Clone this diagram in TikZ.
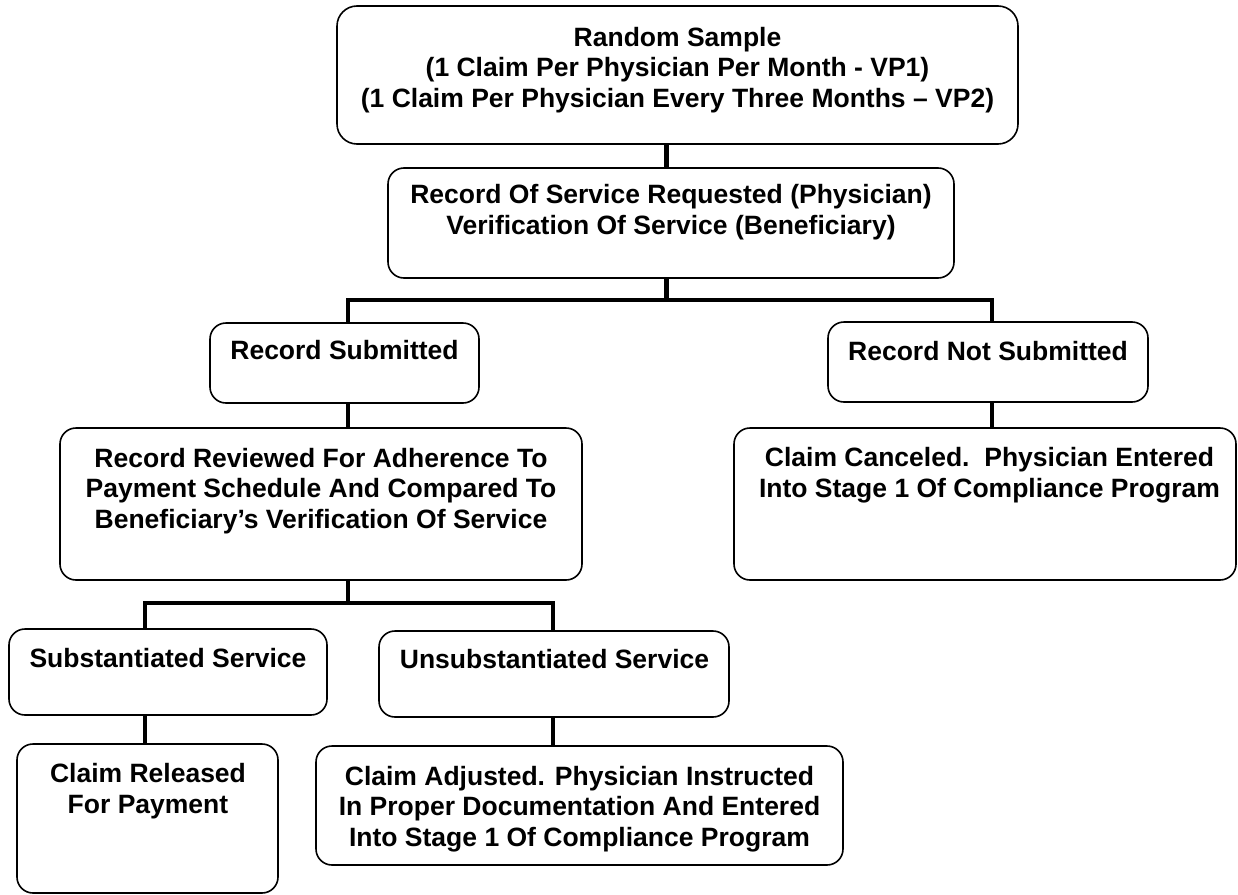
\documentclass[tikz,border=0pt]{standalone}
\usepackage{fontspec}
\setmainfont{Liberation Sans}
\begin{document}
\begin{tikzpicture}[x=1pt,y=-1pt,
    box/.style={draw, line width=1.6pt, rounded corners=16pt, inner sep=0pt},
    lbl/.style={font=\bfseries\fontsize{26.5}{30.5}\selectfont, align=center, anchor=base, inner sep=0pt},
    link/.style={line width=4.5pt, line join=miter}]
  \useasboundingbox (0,0) rectangle (1238,894);
  % boxes
  \node[box, rounded corners=20pt, minimum width=681pt, minimum height=138pt] (sample) at (677.5,75) {};
  \node[box, minimum width=566pt, minimum height=110pt] (record) at (671,223) {};
  \node[box, minimum width=269pt, minimum height=80pt] (sub) at (344.5,363) {};
  \node[box, minimum width=320pt, minimum height=80pt] (nosub) at (988,362) {};
  \node[box, minimum width=522pt, minimum height=152pt] (review) at (321,504) {};
  \node[box, minimum width=502pt, minimum height=152pt] (canceled) at (985,504) {};
  \node[box, minimum width=318pt, minimum height=86pt] (subst) at (168,672) {};
  \node[box, minimum width=350pt, minimum height=86pt] (unsubst) at (554,674) {};
  \node[box, minimum width=261pt, minimum height=149pt] (released) at (147.5,818.5) {};
  \node[box, minimum width=527pt, minimum height=119pt] (adjusted) at (579.5,805.5) {};
  % texts (base = last line)
  \node[lbl] (sampletxt) at (677.5,107) {Random Sample\\(1 Claim Per Physician Per Month - VP1)\\(1 Claim Per Physician Every Three Months – VP2)};
  \node[lbl] (recordtxt) at (671,234) {Record Of Service Requested (Physician)\\Verification Of Service (Beneficiary)};
  \node[lbl] (subtxt) at (344.5,359) {Record Submitted};
  \node[lbl] (nosubtxt) at (988,360) {Record Not Submitted};
  \node[lbl] (reviewtxt) at (321,528) {Record Reviewed For Adherence To\\Payment Schedule And Compared To\\Beneficiary’s Verification Of Service};
  \node[lbl] (canceledtxt) at (989.5,497) {Claim Canceled.\ \ Physician Entered\\Into Stage 1 Of Compliance Program};
  \node[lbl] (substtxt) at (168,667) {Substantiated Service};
  \node[lbl] (unsubsttxt) at (554.5,668) {Unsubstantiated Service};
  \node[lbl] (releasedtxt) at (148,813) {Claim Released\\For Payment};
  \node[lbl] (adjustedtxt) at (579.5,846) {Claim Adjusted. Physician Instructed\\In Proper Documentation And Entered\\Into Stage 1 Of Compliance Program};
  % junctions
  \coordinate (j1) at (666.5,300);
  \coordinate (b1l) at (348,300);
  \coordinate (b1r) at (992,300);
  \coordinate (j2) at (348,603);
  \coordinate (b2l) at (145,603);
  \coordinate (b2r) at (553,603);
  % connectors
  \draw[link] (sample.south -| j1) -- (record.north -| j1);
  \draw[link] (record.south -| j1) -- (j1);
  \draw[link] (sub.north -| b1l) -- (b1l) -- (b1r) -- (nosub.north -| b1r);
  \draw[link] (sub.south -| b1l) -- (review.north -| b1l);
  \draw[link] (nosub.south -| b1r) -- (canceled.north -| b1r);
  \draw[link] (review.south -| j2) -- (j2);
  \draw[link] (subst.north -| b2l) -- (b2l) -- (b2r) -- (unsubst.north -| b2r);
  \draw[link] (subst.south -| b2l) -- (released.north -| b2l);
  \draw[link] (unsubst.south -| b2r) -- (adjusted.north -| b2r);
\end{tikzpicture}
\end{document}
